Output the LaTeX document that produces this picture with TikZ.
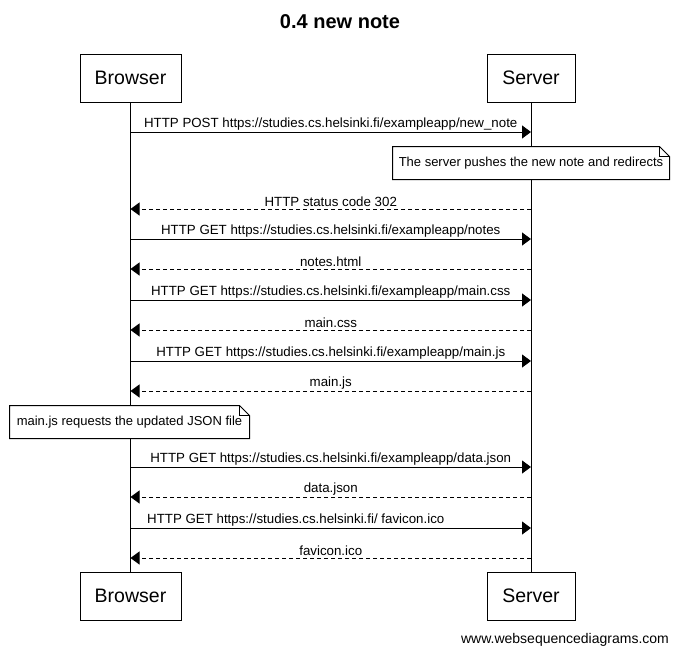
\documentclass[tikz,border=0pt]{standalone}
\usepackage{fontspec}
\setmainfont{Liberation Sans}
\usetikzlibrary{arrows.meta, positioning}
\newcommand{\NoteBox}[1]{
  \draw (#1.north west) -- ([xshift=-10pt]#1.north east) -- ([yshift=-10pt]#1.north east)
    -- (#1.south east) -- (#1.south west) -- cycle;
  \draw ([xshift=-10pt]#1.north east) -- ([xshift=-10pt,yshift=-10pt]#1.north east) -- ([yshift=-10pt]#1.north east);
}
\tikzset{
  actor/.style={draw, fill=white, minimum height=48pt, inner sep=0pt, font=\fontsize{19.5}{22}\selectfont},
  msg/.style={-{Triangle[length=9pt,width=13pt]}},
  reply/.style={msg, dash pattern=on 4pt off 3pt},
  lbl/.style={midway, above, inner sep=1.5pt, font=\fontsize{13.3}{15}\selectfont},
  note/.style={fill=white, minimum height=32pt, inner sep=0pt, font=\fontsize{13}{15}\selectfont}
}

\begin{document}
\begin{tikzpicture}[x=1pt, y=-1pt, line width=1pt]
    \useasboundingbox (0,0) rectangle (679,656);

    \node[font=\bfseries\fontsize{20}{24}\selectfont] (title) at (340,22) {0.4 new note};

    % participants
    \node[actor, minimum width=101pt] (browser) at (130.5,78) {Browser};
    \node[actor, minimum width=88pt] (server) at (531,78) {Server};
    \node[actor, minimum width=101pt] (browserend) at (130.5,596) {Browser};
    \node[actor, minimum width=88pt] (serverend) at (531,596) {Server};
    \draw (browser) -- (browserend);
    \draw (server) -- (serverend);

    % message rows
    \coordinate (post) at (0,132);
    \coordinate (redirect) at (0,209);
    \coordinate (getnotes) at (0,239);
    \coordinate (notes) at (0,269);
    \coordinate (getcss) at (0,300);
    \coordinate (css) at (0,330);
    \coordinate (getjs) at (0,361);
    \coordinate (js) at (0,391);
    \coordinate (getdata) at (0,467);
    \coordinate (data) at (0,497);
    \coordinate (getico) at (0,528);
    \coordinate (ico) at (0,558);

    \draw[msg] (browser |- post) -- (server |- post)
      node[lbl] {HTTP POST https://studies.cs.helsinki.fi/exampleapp/new\_note};

    \node[note, minimum width=276pt] (pushnote) at (531,163) {The server pushes the new note and redirects};
    \NoteBox{pushnote}

    \draw[reply] (server |- redirect) -- (browser |- redirect) node[lbl] {HTTP status code 302};
    \draw[msg] (browser |- getnotes) -- (server |- getnotes)
      node[lbl] {HTTP GET https://studies.cs.helsinki.fi/exampleapp/notes};
    \draw[reply] (server |- notes) -- (browser |- notes) node[lbl] {notes.html};
    \draw[msg] (browser |- getcss) -- (server |- getcss)
      node[lbl] {HTTP GET https://studies.cs.helsinki.fi/exampleapp/main.css};
    \draw[reply] (server |- css) -- (browser |- css) node[lbl] {main.css};
    \draw[msg] (browser |- getjs) -- (server |- getjs)
      node[lbl] {HTTP GET https://studies.cs.helsinki.fi/exampleapp/main.js};
    \draw[reply] (server |- js) -- (browser |- js) node[lbl] {main.js};

    \node[note, minimum width=239pt] (jsnote) at (129.5,422) {main.js requests the updated JSON file};
    \NoteBox{jsnote}

    \draw[msg] (browser |- getdata) -- (server |- getdata)
      node[lbl] {HTTP GET https://studies.cs.helsinki.fi/exampleapp/data.json};
    \draw[reply] (server |- data) -- (browser |- data) node[lbl] {data.json};
    \draw[msg] (browser |- getico) -- (server |- getico)
      node[lbl, xshift=-35pt] {HTTP GET https://studies.cs.helsinki.fi/ favicon.ico};
    \draw[reply] (server |- ico) -- (browser |- ico) node[lbl] {favicon.ico};

    \node[font=\fontsize{14}{16}\selectfont] (footer) at (565,640) {www.websequencediagrams.com};
\end{tikzpicture}
\end{document}
